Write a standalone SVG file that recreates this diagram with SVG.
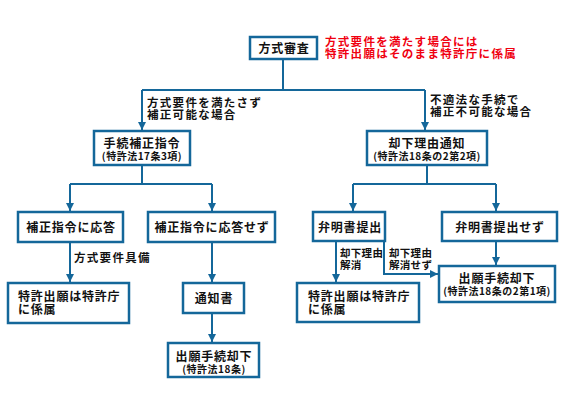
<svg xmlns="http://www.w3.org/2000/svg" width="567" height="404" viewBox="0 0 567 404">
<style>
.b{fill:#fff;stroke:#14679A;stroke-width:2.5}
.c{fill:none;stroke:#14679A;stroke-width:2}
text{font-family:"Noto Sans CJK JP","Noto Sans CJK SC",sans-serif;font-weight:bold;fill:#111}
.t{font-size:12px;letter-spacing:0.8px}
.s{font-size:10px;letter-spacing:0.5px}
.l{font-size:11.5px;letter-spacing:1.3px}
.m{font-size:10.5px;letter-spacing:0.3px}
.r{fill:#F00010;font-size:11.5px;letter-spacing:1.3px}
.mid{text-anchor:middle}
</style>
<defs>
<marker id="a" markerUnits="userSpaceOnUse" markerWidth="10" markerHeight="8" refX="8" refY="4" orient="auto">
<path d="M0,0 L8,4 L0,8 Z" fill="#14679A"/>
</marker>
</defs>
<g id="connectors">
<path class="c" d="M283,59 V90"/>
<path class="c" d="M142,90 H425"/>
<path class="c" d="M142,90 V130" marker-end="url(#a)"/>
<path class="c" d="M425,90 V130" marker-end="url(#a)"/>
<path class="c" d="M142,165 V184"/>
<path class="c" d="M70,184 H212"/>
<path class="c" d="M70,184 V211" marker-end="url(#a)"/>
<path class="c" d="M212,184 V211" marker-end="url(#a)"/>
<path class="c" d="M70,242 V282" marker-end="url(#a)"/>
<path class="c" d="M212,242 V282" marker-end="url(#a)"/>
<path class="c" d="M212,313 V342" marker-end="url(#a)"/>
<path class="c" d="M427,165 V184"/>
<path class="c" d="M353,184 H496"/>
<path class="c" d="M353,184 V211" marker-end="url(#a)"/>
<path class="c" d="M496,184 V211" marker-end="url(#a)"/>
<path class="c" d="M336,241 V282" marker-end="url(#a)"/>
<path class="c" d="M384,241 V274 H438" marker-end="url(#a)"/>
<path class="c" d="M496,241 V265" marker-end="url(#a)"/>
<text class="l" x="147" y="107">方式要件を満たさず<tspan x="147" dy="12">補正可能な場合</tspan></text>
<text class="l" x="430" y="104">不適法な手続で<tspan x="430" dy="12">補正不可能な場合</tspan></text>
<text class="l" x="74" y="262">方式要件具備</text>
<text class="m" x="340" y="257">却下理由<tspan x="340" dy="12">解消</tspan></text>
<text class="m" x="389" y="257">却下理由<tspan x="389" dy="12">解消せず</tspan></text>
</g>
<g id="n1">
<rect class="b" x="250" y="37" width="67" height="22"/>
<text class="t mid" x="284" y="53">方式審査</text>
</g>
<g id="note">
<text class="r" x="325" y="46">方式要件を満たす場合には<tspan x="325" dy="12">特許出願はそのまま特許庁に係属</tspan></text>
</g>
<g id="n2">
<rect class="b" x="94" y="131" width="96" height="34"/>
<text class="t mid" x="142" y="148">手続補正指令<tspan class="s" x="142" dy="12">(特許法17条3項)</tspan></text>
</g>
<g id="n3">
<rect class="b" x="367" y="131" width="120" height="34"/>
<text class="t mid" x="427" y="148">却下理由通知<tspan class="s" x="427" dy="12">(特許法18条の2第2項)</tspan></text>
</g>
<g id="n4">
<rect class="b" x="18" y="212" width="105" height="30"/>
<text class="t mid" x="71" y="232">補正指令に応答</text>
</g>
<g id="n5">
<rect class="b" x="148" y="212" width="127" height="30"/>
<text class="t mid" x="212" y="232">補正指令に応答せず</text>
</g>
<g id="n6">
<rect class="b" x="8" y="283" width="121" height="40"/>
<text class="t" x="18" y="301">特許出願は特許庁<tspan x="18" dy="13">に係属</tspan></text>
</g>
<g id="n7">
<rect class="b" x="183" y="283" width="61" height="30"/>
<text class="t mid" x="214" y="303">通知書</text>
</g>
<g id="n8">
<rect class="b" x="168" y="343" width="91" height="34"/>
<text class="t mid" x="214" y="361">出願手続却下<tspan class="s" x="214" dy="12">(特許法18条)</tspan></text>
</g>
<g id="n9">
<rect class="b" x="313" y="212" width="72" height="29"/>
<text class="t mid" x="350" y="232">弁明書提出</text>
</g>
<g id="n10">
<rect class="b" x="442" y="212" width="115" height="29"/>
<text class="t mid" x="500" y="232">弁明書提出せず</text>
</g>
<g id="n11">
<rect class="b" x="297" y="283" width="122" height="39"/>
<text class="t" x="308" y="301">特許出願は特許庁<tspan x="308" dy="13">に係属</tspan></text>
</g>
<g id="n12">
<rect class="b" x="439" y="266" width="116" height="36"/>
<text class="t mid" x="497" y="283">出願手続却下<tspan class="s" x="497" dy="12">(特許法18条の2第1項)</tspan></text>
</g>
</svg>
